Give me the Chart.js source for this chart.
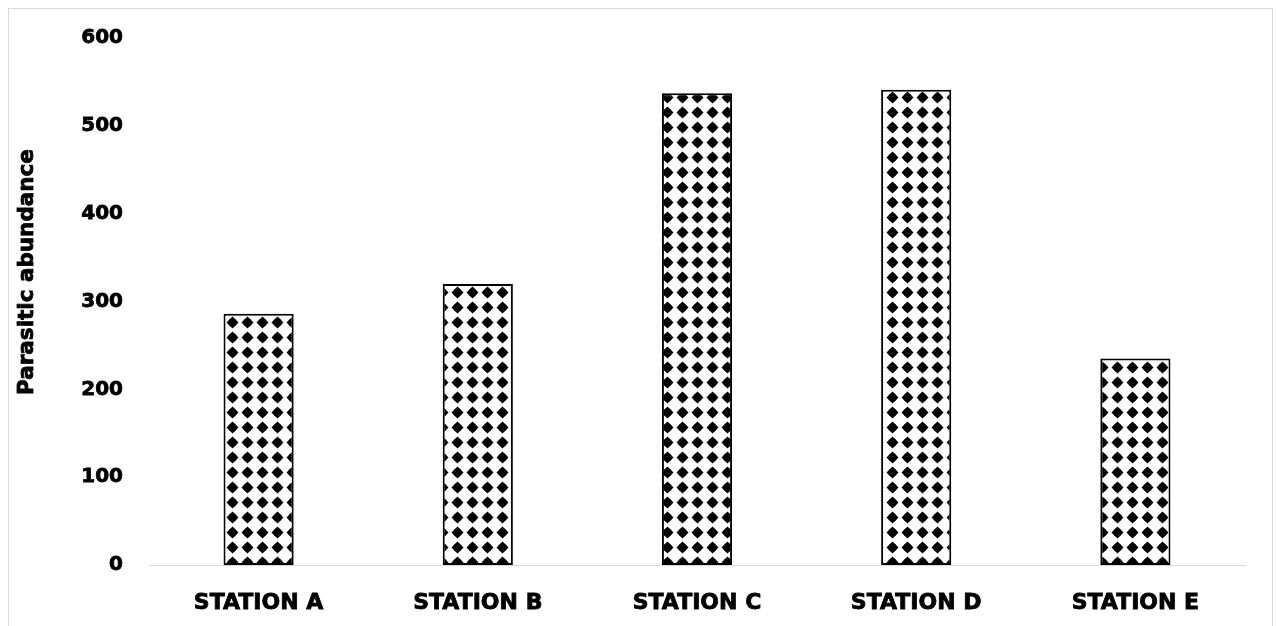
<!DOCTYPE html>
<html>
<head>
<meta charset="utf-8">
<script src="https://cdn.jsdelivr.net/npm/chart.js@4.4.1/dist/chart.umd.min.js"></script>
<style>
  html, body { margin: 0; padding: 0; background: #fff; overflow: hidden; }
  #wrap { position: relative; width: 1277px; height: 626px; }
  #frame { position: absolute; left: 8px; top: 8px; width: 1263px; height: 700px; border: 1px solid #d9d9d9; pointer-events: none; }
</style>
</head>
<body>
<div id="wrap">
  <canvas id="myChart" width="1277" height="626"></canvas>
  <div id="frame"></div>
</div>
<script>
const stations = ['STATION A', 'STATION B', 'STATION C', 'STATION D', 'STATION E']
const abundance = [286, 320, 537, 541, 235]
const yTicks = [0, 100, 200, 300, 400, 500, 600]
const yTitle = 'Parasitic abundance'

// black rounded-diamond dots on white, like the excel pattern fill
function makePattern() {
  const size = 15
  const c = document.createElement('canvas')
  c.width = size
  c.height = size
  const g = c.getContext('2d')
  g.fillStyle = '#fff'
  g.fillRect(0, 0, size, size)
  g.fillStyle = '#000'
  const cx = size / 2, cy = size / 2
  g.beginPath()
  g.arc(cx, cy, 4.3, 0, Math.PI * 2)
  g.fill()
  g.beginPath()
  g.moveTo(cx, cy - 6)
  g.lineTo(cx + 6, cy)
  g.lineTo(cx, cy + 6)
  g.lineTo(cx - 6, cy)
  g.closePath()
  g.fill()
  return g.createPattern(c, 'repeat')
}

const boldFont = 'DejaVu Sans'

// y title drawn by hand, it sits a bit above the middle in the original
const yTitlePlugin = {
  id: 'yTitleCustom',
  afterDraw: function(chart) {
    const ctx = chart.ctx
    ctx.save()
    ctx.translate(27, 272)
    ctx.rotate(-Math.PI / 2)
    ctx.textAlign = 'center'
    ctx.textBaseline = 'middle'
    ctx.font = 'bold 21.5px "' + boldFont + '"'
    ctx.fillStyle = '#000'
    ctx.strokeStyle = '#000'
    ctx.lineWidth = 0.8
    ctx.fillText(yTitle, 0, 0)
    ctx.strokeText(yTitle, 0, 0)
    ctx.restore()
  }
}

document.addEventListener('DOMContentLoaded', function() {
  const ctx = document.getElementById('myChart')
  const pattern = makePattern()

  new Chart(ctx, {
    type: 'bar',
    data: {
      labels: stations,
      datasets: [{
        label: yTitle,
        data: abundance,
        backgroundColor: pattern,
        borderColor: '#000',
        borderWidth: 2,
        borderSkipped: false,
        categoryPercentage: 1,
        barPercentage: 0.32
      }]
    },
    options: {
      responsive: false,
      animation: false,
      events: [],
      layout: {
        padding: { top: 35, right: 32, bottom: 0, left: 0 }
      },
      plugins: {
        legend: { display: false },
        title: { display: false },
        tooltip: { enabled: false }
      },
      scales: {
        x: {
          grid: { display: false, drawTicks: false },
          border: { display: true, color: '#d9d9d9', width: 1 },
          ticks: {
            color: '#000',
            padding: 25,
            maxRotation: 0,
            textStrokeColor: '#000',
            textStrokeWidth: 0.8,
            font: { family: boldFont, weight: 'bold', size: 22 }
          },
          afterFit: function(scale) { scale.height = 61 }
        },
        y: {
          min: 0,
          max: 600,
          afterBuildTicks: function(scale) {
            scale.ticks = yTicks.map(v => ({ value: v }))
          },
          grid: { display: false, drawTicks: false },
          border: { display: false },
          ticks: {
            color: '#000',
            padding: 26,
            textStrokeColor: '#000',
            textStrokeWidth: 0.8,
            font: { family: boldFont, weight: 'bold', size: 20 }
          },
          afterFit: function(scale) { scale.width = 149 }
        }
      }
    },
    plugins: [yTitlePlugin]
  })
})
</script>
</body>
</html>
